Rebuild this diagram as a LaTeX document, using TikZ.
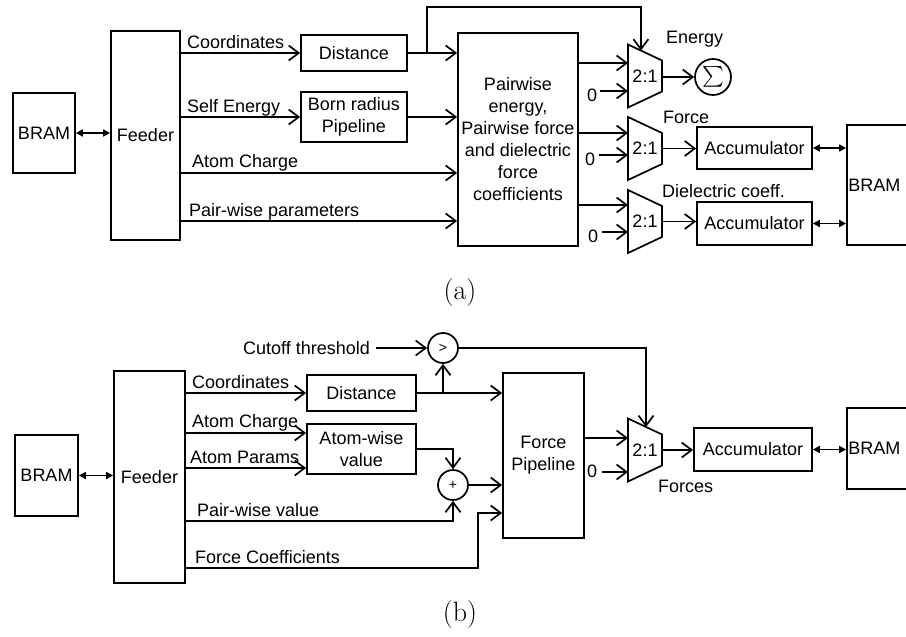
\documentclass[tikz,border=0pt]{standalone}
\usepackage{exscale}
\usepackage{fontspec}
\newfontfamily\diagfont{Liberation Sans}
\usetikzlibrary{arrows.meta,calc}

% 2:1 multiplexer outline drawn around a (transparent) node
\newcommand\drawmux[1]{%
  \draw[line width=1.7pt, line join=miter]
    (#1.north west) -- ([yshift=-16pt]#1.north east)
    -- ([yshift=16pt]#1.south east) -- (#1.south west) -- cycle;}

\begin{document}
\begin{tikzpicture}[x=1pt,y=-1pt,
  every node/.style={font=\diagfont\fontsize{18}{22}\selectfont},
  box/.style={draw, line width=1.7pt, inner sep=2pt, align=center},
  arr/.style={line width=1.7pt, -{Straight Barb[length=10pt,width=15pt]}},
  bidir/.style={line width=1.6pt, {Triangle[length=7pt,width=7pt]}-{Triangle[length=7pt,width=7pt]}},
  mux/.style={minimum width=34pt, minimum height=63pt, inner sep=0pt, outer sep=0pt},
  op/.style={draw, circle, line width=1.7pt, minimum size=30pt, inner sep=0pt},
  lbl/.style={anchor=base west, inner sep=0pt},
  subcap/.style={font=\rmfamily\fontsize{28}{30}\selectfont}
]
\useasboundingbox (0,0) rectangle (906,637);
\clip (0,0) rectangle (906,637);

% ---------------- (a) GB energy / force datapath ----------------
\node[box, minimum width=62pt, minimum height=80pt] (bramA) at (44,133) {BRAM};
\node[box, minimum width=69pt, minimum height=209pt] (feedA) at (145.5,135.5) {Feeder};
\node[box, minimum width=106pt, minimum height=36pt] (distA) at (354,53) {Distance};
\node[box, minimum width=106pt, minimum height=50pt] (bornA) at (354,117) {Born radius\\Pipeline};
\node[box, minimum width=120pt, minimum height=213pt] (coreA) at (518,139.5)
  {Pairwise\\energy,\\Pairwise force\\and dielectric\\force\\coefficients};

\node[mux] (muxE) at (645,76) {2:1};  \drawmux{muxE}
\node[mux] (muxF) at (645,148.5) {2:1}; \drawmux{muxF}
\node[mux] (muxD) at (645,221.5) {2:1}; \drawmux{muxD}

\node[op, minimum size=36pt, font=\fontsize{20}{20}\selectfont] (sum) at (713,77) {$\sum$};
\node[box, minimum width=115pt, minimum height=42pt] (accF) at (754.5,148) {Accumulator};
\node[box, minimum width=115pt, minimum height=43pt] (accD) at (754.5,223.5) {Accumulator};
\node[box, minimum width=100pt, minimum height=120pt] (bramR) at (897,185) {};
\node[anchor=west, inner sep=2pt] (bramRtext) at (bramR.west) {BRAM};

% signal names
\node[lbl] at (187,48) {Coordinates};
\node[lbl] at (187,112) {Self Energy};
\node[lbl] at (192,167) {Atom Charge};
\node[lbl] at (189,216) {Pair-wise parameters};
\node[lbl] at (666,43) {Energy};
\node[lbl] at (663,123) {Force};
\node[lbl] at (662,197) {Dielectric coeff.};
\node[lbl] (zE) at (587,101) {0};
\node[lbl] (zF) at (585,165) {0};
\node[lbl] (zD) at (588,242) {0};

% helper rows and turning points
\coordinate (yAC) at (0,173);
\coordinate (yPP) at (0,221);
\coordinate (yE1) at (0,63);
\coordinate (yE0) at (0,91);
\coordinate (yF1) at (0,133);
\coordinate (yF0) at (0,155);
\coordinate (yD1) at (0,205);
\coordinate (yD0) at (0,232);
\coordinate (selA) at (427,53);
\coordinate (selTop) at (0,7);
\coordinate (muxEsel) at ($(muxE.north west)!0.38!([yshift=-16pt]muxE.north east)$);

% connectors
\draw[bidir] (bramA.east) -- (feedA.west |- bramA.east);
\draw[arr] (feedA.east |- distA.west) -- (distA.west);
\draw[arr] (feedA.east |- bornA.west) -- (bornA.west);
\draw[arr] (feedA.east |- yAC) -- (coreA.west |- yAC);
\draw[arr] (feedA.east |- yPP) -- (coreA.west |- yPP);
\draw[arr] (distA.east) -- (coreA.west |- distA.east);
\draw[arr] (bornA.east) -- (coreA.west |- bornA.east);
\draw[arr] (selA) -- (selA |- selTop) -| (muxEsel);

\draw[arr] (coreA.east |- yE1) -- (muxE.west |- yE1);
\draw[arr] (coreA.east |- yF1) -- (muxF.west |- yF1);
\draw[arr] (coreA.east |- yD1) -- (muxD.west |- yD1);
\draw[arr] ([xshift=3pt]zE.east |- yE0) -- (muxE.west |- yE0);
\draw[arr] ([xshift=4pt]zF.east |- yF0) -- (muxF.west |- yF0);
\draw[arr] ([xshift=4pt]zD.east |- yD0) -- (muxD.west |- yD0);

\draw[arr] (muxE.east |- sum.west) -- (sum.west);
\draw[arr] (muxF.east) -- (accF.west |- muxF.east);
\draw[arr] (muxD.east) -- (accD.west |- muxD.east);
\draw[bidir] (accF.east) -- (bramR.west |- accF.east);
\draw[bidir] (accD.east) -- (bramR.west |- accD.east);

\node[subcap] (capA) at (460,293) {(a)};

% ---------------- (b) force datapath with cutoff ----------------
\node[box, minimum width=63pt, minimum height=81pt] (bramB) at (46.5,475.5) {BRAM};
\node[box, minimum width=71pt, minimum height=212pt] (feedB) at (149.5,477) {Feeder};
\node[box, minimum width=109pt, minimum height=36pt] (distB) at (361.5,393) {Distance};
\node[box, minimum width=109pt, minimum height=50pt] (atomB) at (361.5,449) {Atom-wise\\value};
\node[op, font=\diagfont\fontsize{14}{15}\selectfont] (gt) at (443,348) {>};
\node[op, font=\diagfont\fontsize{14}{15}\selectfont] (plus) at (453,485) {+};
\node[box, minimum width=81pt, minimum height=165pt] (fpB) at (543.5,455.5) {Force\\Pipeline};
\node[mux] (muxB) at (645,450) {2:1}; \drawmux{muxB}
\node[box, minimum width=118pt, minimum height=43pt] (accB) at (753,449.5) {Accumulator};
\node[box, minimum width=100pt, minimum height=81pt] (bramS) at (897,448.5) {};
\node[anchor=west, inner sep=2pt] (bramStext) at (bramS.west) {BRAM};

% signal names
\node[lbl] (cut) at (243,354) {Cutoff threshold};
\node[lbl] at (192,388) {Coordinates};
\node[lbl] at (192,427) {Atom Charge};
\node[lbl] at (190,463) {Atom Params};
\node[lbl] at (197,516) {Pair-wise value};
\node[lbl] at (195,563) {Force Coefficients};
\node[lbl] at (658,492) {Forces};
\node[lbl] (zB) at (587,477) {0};

% helper rows and turning points
\coordinate (yAC2) at (0,433);
\coordinate (yAP) at (0,468);
\coordinate (yPV) at (0,521);
\coordinate (yFC) at (0,568);
\coordinate (fcTurn) at (478,513);
\coordinate (yB1) at (0,438);
\coordinate (yB0) at (0,472);
\coordinate (muxBsel) at ($(muxB.north west)!0.53!([yshift=-16pt]muxB.north east)$);

% connectors
\draw[bidir] (bramB.east) -- (feedB.west |- bramB.east);
\draw[arr] ([xshift=6pt]cut.east |- gt.west) -- (gt.west);
\draw[arr] (feedB.east |- distB.west) -- (distB.west);
\draw[arr] (feedB.east |- yAC2) -- (atomB.west |- yAC2);
\draw[arr] (feedB.east |- yAP) -- (atomB.west |- yAP);
\draw[arr] (distB.east) -- (fpB.west |- distB.east);
\draw[arr] (gt.south |- distB.east) -- (gt.south);
\draw[arr] (atomB.east) -| (plus.north);
\draw[arr] (feedB.east |- yPV) -| (plus.south);
\draw[arr] (plus.east) -- (fpB.west |- plus.east);
\draw[arr] (feedB.east |- yFC) -| (fcTurn) -- (fpB.west |- fcTurn);
\draw[arr] (gt.east) -| (muxBsel);
\draw[arr] (fpB.east |- yB1) -- (muxB.west |- yB1);
\draw[arr] ([xshift=5pt]zB.east |- yB0) -- (muxB.west |- yB0);
\draw[arr] (muxB.east) -- (accB.west |- muxB.east);
\draw[bidir] (accB.east) -- (bramS.west |- accB.east);

\node[subcap] (capB) at (460,615) {(b)};
\end{tikzpicture}
\end{document}
